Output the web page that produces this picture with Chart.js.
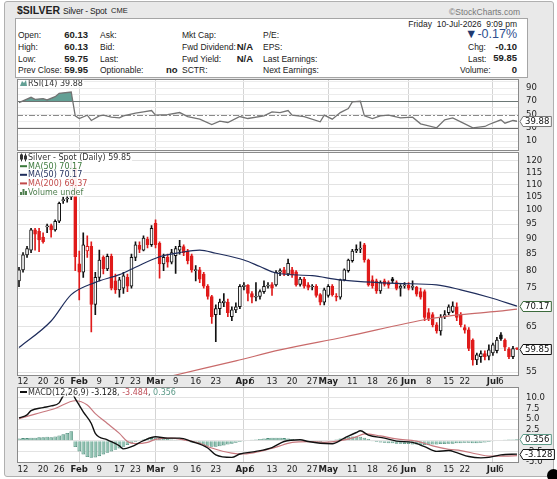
<!DOCTYPE html>
<html>
<head>
<meta charset="utf-8">
<script src="https://cdn.jsdelivr.net/npm/chart.js@4.4.1/dist/chart.umd.min.js"></script>
<style>
  body { margin: 0; width: 557px; height: 479px; overflow: hidden; background: #fff; font-family: "Liberation Sans", Arial, sans-serif; color: #222; }
  #frame { position: absolute; left: 4px; top: 1px; width: 548px; height: 474px; background: #e9e9e9; border: 1px solid #b0b0b0; border-radius: 3px; }
  #info { position: absolute; left: 15px; top: 18px; width: 511px; height: 58px; background: #fff; border: 1px solid #a5a5a5; }
  .t { position: absolute; white-space: nowrap; font-size: 8.5px; line-height: 12px; }
  .b { font-weight: bold; font-size: 9.5px; }
  canvas { position: absolute; left: 0; }
  #dot { position: absolute; left: 547px; top: 469px; width: 13px; height: 13px; border-radius: 50%; background: #000; }
</style>
</head>
<body>
<div id="frame"></div>
<span class="t" style="left:17px;top:4px;font-size:10.5px;font-weight:bold">$SILVER</span>
<span class="t" style="left:63px;top:4.5px;font-size:8.5px;letter-spacing:-0.2px">Silver - Spot</span>
<span class="t" style="left:111px;top:5px;font-size:7.5px">CME</span>
<span class="t" style="right:37px;top:6px;font-size:8.5px;color:#777">©StockCharts.com</span>
<div id="info"></div>

<span class="t" style="left:18px;top:29px">Open:</span>
<span class="t" style="left:18px;top:41px">High:</span>
<span class="t" style="left:18px;top:53px">Low:</span>
<span class="t" style="left:18px;top:64px">Prev Close:</span>
<span class="t b" style="right:469px;top:29px">60.13</span>
<span class="t b" style="right:469px;top:41px">60.13</span>
<span class="t b" style="right:469px;top:53px">59.75</span>
<span class="t b" style="right:469px;top:64px">59.95</span>

<span class="t" style="left:100px;top:29px">Ask:</span>
<span class="t" style="left:100px;top:41px">Bid:</span>
<span class="t" style="left:100px;top:53px">Last:</span>
<span class="t" style="left:100px;top:64px">Optionable:</span>
<span class="t b" style="left:166px;top:64px">no</span>

<span class="t" style="left:182px;top:29px">Mkt Cap:</span>
<span class="t" style="left:182px;top:41px">Fwd Dividend:</span>
<span class="t" style="left:182px;top:53px">Fwd Yield:</span>
<span class="t" style="left:182px;top:64px">SCTR:</span>
<span class="t b" style="right:304px;top:41px">N/A</span>
<span class="t b" style="right:304px;top:53px">N/A</span>

<span class="t" style="left:263px;top:29px">P/E:</span>
<span class="t" style="left:263px;top:41px">EPS:</span>
<span class="t" style="left:263px;top:53px">Last Earnings:</span>
<span class="t" style="left:263px;top:64px">Next Earnings:</span>

<span class="t" style="right:40px;top:18px">Friday&nbsp; 10-Jul-2026&nbsp; 9:09 pm</span>
<span class="t" style="right:40px;top:28px;font-size:12.5px;color:#2f4f8f"><span style="color:#1f3a70">▼</span>-0.17%</span>
<span class="t" style="left:468px;top:41px">Chg:</span>
<span class="t b" style="right:40px;top:41px">-0.10</span>
<span class="t" style="left:468px;top:53px">Last:</span>
<span class="t b" style="right:40px;top:52px">59.85</span>
<span class="t" style="left:460px;top:64px">Volume:</span>
<span class="t b" style="right:40px;top:64px">0</span>

<canvas id="rsiChart" width="557" height="73" style="top:78px"></canvas>
<canvas id="priceChart" width="557" height="237" style="top:150px"></canvas>
<canvas id="macdChart" width="557" height="90" style="top:386px"></canvas>
<div id="dot"></div>

<script>
// trading days shown on the chart
const DATES = [
  'Jan 9','Jan 12','Jan 13','Jan 14','Jan 15','Jan 16','Jan 20','Jan 21','Jan 22','Jan 23',
  'Jan 26','Jan 27','Jan 28','Jan 29','Jan 30','Feb 2','Feb 3','Feb 4','Feb 5','Feb 6',
  'Feb 9','Feb 10','Feb 11','Feb 12','Feb 13','Feb 17','Feb 18','Feb 19','Feb 20','Feb 23',
  'Feb 24','Feb 25','Feb 26','Feb 27','Mar 2','Mar 3','Mar 4','Mar 5','Mar 6','Mar 9',
  'Mar 10','Mar 11','Mar 12','Mar 13','Mar 16','Mar 17','Mar 18','Mar 19','Mar 20','Mar 23',
  'Mar 24','Mar 25','Mar 26','Mar 27','Mar 30','Mar 31','Apr 1','Apr 2','Apr 6','Apr 7',
  'Apr 8','Apr 9','Apr 10','Apr 13','Apr 14','Apr 15','Apr 16','Apr 17','Apr 20','Apr 21',
  'Apr 22','Apr 23','Apr 24','Apr 27','Apr 28','Apr 29','Apr 30','May 1','May 4','May 5',
  'May 6','May 7','May 8','May 11','May 12','May 13','May 14','May 15','May 18','May 19',
  'May 20','May 21','May 22','May 26','May 27','May 28','May 29','Jun 1','Jun 2','Jun 3',
  'Jun 4','Jun 5','Jun 8','Jun 9','Jun 10','Jun 11','Jun 12','Jun 15','Jun 16','Jun 17',
  'Jun 18','Jun 22','Jun 23','Jun 24','Jun 25','Jun 26','Jun 29','Jun 30','Jul 1','Jul 2',
  'Jul 6','Jul 7','Jul 8','Jul 9','Jul 10'
];

const OPEN = [
  77.0,80.2,84.8,86.3,93.0,92.5,90.5,94.0,94.5,93.0, 96.0,103.6,104.2,105.0,117.0,82.0,79.5,86.0,87.5,70.6,
  78.0,84.0,80.5,84.3,77.0,74.5,75.0,78.0,75.5,84.0, 87.8,86.3,89.8,88.0,95.3,88.5,82.0,84.0,82.5,84.5,
  86.3,87.4,86.0,84.5,80.0,80.2,79.0,75.5,72.7,68.0, 69.5,71.0,71.2,67.5,69.2,70.0,75.4,75.8,73.5,72.5,
  72.7,74.0,75.5,76.0,75.9,79.5,80.2,79.0,80.2,79.6, 76.0,77.5,75.9,75.3,75.5,73.2,71.2,73.0,75.5,72.8,
  72.5,77.3,80.0,83.0,86.0,86.6,88.0,83.2,77.3,77.0, 74.2,77.0,76.5,77.6,76.5,75.0,75.6,75.8,75.2,75.2,
  74.0,74.0,68.5,68.0,65.5,64.0,67.5,68.5,68.8,70.0, 68.0,64.8,64.3,61.9,57.5,58.2,58.9,58.3,59.0,59.5,
  63.1,61.9,59.8,58.2,60.13
];
const HIGH = [
  81.0,85.5,87.5,93.5,93.5,93.5,92.0,95.0,95.0,96.5, 103.0,105.0,106.0,121.0,118.5,86.0,92.0,91.0,89.0,79.5,
  86.3,84.5,85.0,85.0,79.0,78.0,79.5,79.0,85.0,89.0, 89.0,91.0,90.5,94.5,96.5,89.0,85.0,85.0,86.5,87.5,
  89.5,88.0,86.5,85.0,81.5,81.0,79.5,76.0,73.0,70.5, 72.0,73.5,72.0,70.0,71.0,76.0,76.5,76.0,74.0,76.5,
  74.5,77.0,76.5,76.5,80.0,80.5,81.0,83.5,81.0,80.0, 78.0,78.0,76.5,76.0,76.0,73.5,75.0,76.0,76.0,73.5,
  77.5,80.5,83.5,86.5,88.0,89.0,88.5,83.5,78.5,77.5, 77.0,77.5,77.0,78.0,77.0,76.0,76.5,76.5,77.0,75.5,
  75.0,74.5,69.5,68.5,66.0,68.0,69.0,70.5,71.3,71.0, 68.5,65.5,64.8,62.2,59.0,59.5,59.5,60.8,61.2,62.5,
  63.6,62.2,60.2,60.5,60.13
];
const LOW = [
  75.4,79.5,84.0,85.5,86.3,85.8,88.5,92.0,90.5,92.5, 95.5,102.5,103.0,104.0,80.0,71.8,78.0,84.0,63.8,68.0,
  77.0,79.0,80.0,74.5,73.5,72.5,73.5,74.0,75.0,83.0, 85.5,86.0,87.0,87.5,87.0,77.8,80.0,81.0,82.0,79.2,
  85.0,84.5,82.0,79.5,77.0,76.5,75.0,72.0,65.8,61.5, 68.0,70.0,67.5,66.5,68.5,69.5,74.5,71.5,71.0,71.5,
  72.0,73.5,75.0,73.0,75.5,78.5,78.5,78.5,78.0,75.5, 75.5,75.0,74.5,74.5,72.5,70.5,70.5,72.5,72.8,71.5,
  72.0,77.0,79.5,82.5,85.5,85.5,82.5,75.5,75.0,73.5, 73.5,75.5,75.0,76.5,74.5,72.8,75.0,74.5,74.5,72.8,
  72.0,66.5,66.5,65.0,63.5,63.0,67.0,68.0,68.5,66.5, 65.0,63.5,59.5,56.4,56.5,57.0,57.5,57.5,58.5,59.0,
  61.8,59.5,57.8,57.8,59.75
];
const CLOSE = [
  80.2,84.8,86.8,93.0,91.5,89.6,89.0,94.2,93.0,96.0, 102.6,103.9,104.6,117.0,84.2,79.5,88.0,87.5,70.6,78.0,
  83.2,80.5,84.3,75.0,74.5,77.3,78.5,75.5,84.0,88.0, 86.5,90.2,88.0,93.5,88.0,82.0,84.0,82.5,85.5,86.8,
  87.5,85.5,83.0,80.2,80.3,77.5,75.5,72.7,67.5,69.5, 71.2,71.5,68.5,69.2,70.0,75.5,75.8,73.5,72.5,72.7,
  74.0,75.5,75.8,75.0,79.5,80.0,79.0,82.2,78.8,75.9, 77.5,75.5,75.2,75.5,73.0,71.2,74.5,75.5,73.2,72.5,
  77.3,80.2,83.2,86.0,86.5,86.9,83.2,75.9,75.6,74.2, 76.5,76.0,75.8,77.0,74.9,75.5,75.9,75.0,75.3,73.3,
  72.5,67.3,67.0,65.5,64.0,67.3,68.0,70.0,70.2,67.3, 65.5,64.2,60.0,57.5,58.6,58.9,58.2,59.7,60.8,61.9,
  62.2,60.3,58.2,59.95,59.85
];

// moving averages, read at points along the curves
const MA50 = [
  ['Jan 9',60.2],['Jan 22',66.4],['Jan 29',73.2],['Feb 6',76.6],['Feb 17',78.8],['Feb 23',81.0],
  ['Mar 3',84.2],['Mar 10',85.5],['Mar 17',86.3],['Mar 23',85.3],['Apr 1',83.2],['Apr 8',81.2],
  ['Apr 14',79.3],['Apr 27',78.5],['May 6',77.3],['May 27',76.3],['Jun 10',75.9],['Jun 18',74.5],
  ['Jun 30',72.5],['Jul 10',70.17]
];
const MA200 = [
  ['Mar 6',54.2],['Mar 9',54.4],['Mar 30',57.3],['Apr 15',59.7],['May 7',62.6],['Jun 8',66.9],
  ['Jun 18',68.0],['Jul 2',68.8],['Jul 10',69.37]
];

const RSI = [
  ['Jan 9',68],['Jan 14',76],['Jan 15',73],['Jan 20',74],['Jan 21',72],['Jan 23',77],['Jan 26',82],
  ['Jan 29',84],['Jan 30',48],['Feb 2',44],['Feb 4',49],['Feb 5',41],['Feb 9',48],['Feb 10',49],
  ['Feb 12',46],['Feb 17',45],['Feb 18',48],['Feb 23',52],['Feb 25',54],['Feb 27',56],['Mar 2',49],
  ['Mar 5',50],['Mar 10',53],['Mar 12',47],['Mar 17',43],['Mar 20',35],['Mar 24',40],['Mar 26',38],
  ['Mar 31',47],['Apr 2',44],['Apr 9',48],['Apr 13',54],['Apr 15',53],['Apr 17',56],['Apr 20',49],
  ['Apr 23',47],['Apr 29',39],['Apr 30',49],['May 4',43],['May 6',53],['May 8',59],['May 11',69],
  ['May 13',70],['May 14',48],['May 18',44],['May 20',48],['May 22',49],['May 28',45],['Jun 2',46],
  ['Jun 4',36],['Jun 10',30],['Jun 12',42],['Jun 16',45],['Jun 18',39],['Jun 24',30],['Jun 29',32],
  ['Jun 30',35],['Jul 6',42],['Jul 7',37],['Jul 9',41],['Jul 10',39.88]
];

const MACD = [
  ['Jan 9',5.3],['Jan 13',6.0],['Jan 14',7.0],['Jan 20',7.7],['Jan 22',8.1],['Jan 26',8.8],['Jan 27',10.4],
  ['Jan 29',11.3],['Jan 30',9.8],['Feb 3',6.7],['Feb 5',4.0],['Feb 6',1.7],['Feb 11',0.2],['Feb 17',-1.2],
  ['Feb 18',-1.9],['Feb 20',-1.4],['Feb 25',0],['Mar 2',0.9],['Mar 5',0.6],['Mar 10',0.6],['Mar 13',-0.2],
  ['Mar 19',-1.7],['Mar 23',-3.3],['Mar 27',-3.9],['Mar 31',-3.1],['Apr 7',-2.5],['Apr 13',-1.6],
  ['Apr 16',-0.2],['Apr 22',0.2],['Apr 24',-0.2],['Apr 29',-0.6],['May 4',-0.7],['May 7',0.6],
  ['May 12',1.9],['May 13',2.3],['May 15',1.3],['May 21',0.6],['May 27',-0.1],['Jun 2',-0.4],
  ['Jun 5',-1.4],['Jun 10',-2.5],['Jun 15',-2.3],['Jun 17',-2.8],['Jun 23',-3.7],['Jun 26',-4.0],
  ['Jun 30',-3.9],['Jul 6',-3.3],['Jul 10',-3.128]
];
const SIGNAL = [
  ['Jan 9',5.1],['Jan 15',6.2],['Jan 23',7.5],['Jan 30',9.3],['Feb 4',8.3],['Feb 6',6.3],['Feb 11',4.0],
  ['Feb 17',1.7],['Feb 19',-0.2],['Feb 23',-0.7],['Feb 26',-0.4],['Mar 2',0.3],['Mar 6',0.6],
  ['Mar 11',0.2],['Mar 17',-0.6],['Mar 20',-1.7],['Mar 27',-2.9],['Apr 1',-3.1],['Apr 8',-2.5],
  ['Apr 14',-1.5],['Apr 20',-0.4],['Apr 24',-0.2],['Apr 30',-0.4],['May 6',0],['May 12',0.9],
  ['May 14',1.6],['May 20',1.1],['May 27',0.4],['Jun 3',-0.1],['Jun 9',-1.2],['Jun 15',-2.0],
  ['Jun 18',-2.3],['Jun 25',-3.1],['Jun 30',-3.6],['Jul 7',-3.6],['Jul 10',-3.484]
];
const HIST = [
  0.5,0.6,0.6,0.7,0.7,0.8,0.8,0.9,0.8,1.0, 1.2,1.5,1.8,2.2,-1.5,-2.5,-3.2,-3.8,-4.0,-3.9,
  -3.6,-3.2,-2.8,-2.5,-2.1,-1.8,-1.4,-1.0,-0.6,-0.3, 0.1,0.3,0.5,0.6,0.7,0.6,0.5,0.4,0.3,0.2,
  0.1,0.0,-0.2,-0.4,-0.6,-0.8,-1.0,-1.2,-1.4,-1.4, -1.3,-1.1,-0.9,-0.7,-0.5,-0.3,-0.1,0.1,0.2,0.3,
  0.4,0.5,0.6,0.7,0.7,0.7,0.6,0.5,0.4,0.3, 0.2,0.0,-0.2,-0.3,-0.3,-0.3,-0.2,-0.1,0.1,0.3,
  0.5,0.7,0.9,1.0,1.0,0.9,0.7,0.4,-0.1,-0.3, -0.4,-0.5,-0.6,-0.6,-0.7,-0.7,-0.8,-0.8,-0.9,-0.9,
  -1.0,-1.0,-1.0,-0.9,-0.9,-0.8,-0.8,-0.7,-0.7,-0.6, -0.6,-0.5,-0.5,-0.6,-0.6,-0.5,-0.4,-0.3,-0.1,0.0,
  0.1,0.2,0.3,0.3,0.356
];

const X_TICK_DATES = ['Jan 12','Jan 20','Jan 26','Feb 2','Feb 9','Feb 17','Feb 23','Mar 2','Mar 9','Mar 16','Mar 23',
  'Apr 1','Apr 6','Apr 13','Apr 20','Apr 27','May 1','May 11','May 18','May 26','Jun 1','Jun 8','Jun 15','Jun 22','Jul 1','Jul 6'];
const X_TICK_TEXT = ['12','20','26','Feb','9','17','23','Mar','9','16','23',
  'Apr','6','13','20','27','May','11','18','26','Jun','8','15','22','Jul','6'];
const MONTHS = ['Feb','Mar','Apr','May','Jun','Jul'];
const PRICE_TICKS = [55,60,65,70,75,80,85,90,95,100,105,110,115,120];
const RSI_TICKS = [0,10,20,30,40,50,60,70,80,90,100];
const RSI_LABELS = [10,30,50,70,90];
const MACD_TICKS = [-5,-2.5,0,2.5,5,7.5,10];

const FONT = 'DejaVu Sans';
const RED = '#e01b1b';
const last = a => a[a.length - 1];
const pts = list => list.map(p => ({ x: p[0], y: p[1] }));

const tickMap = {};
X_TICK_DATES.forEach((d, k) => { tickMap[d] = X_TICK_TEXT[k]; });
const tickText = i => tickMap[DATES[i]] || '';
const isMonth = i => MONTHS.includes(tickText(i));

// StockCharts colouring: red when close < previous close, hollow when close >= open
const candleLine = CLOSE.map((c, i) => c < (i ? CLOSE[i - 1] : OPEN[i]) ? RED : '#111');
const candleFill = CLOSE.map((c, i) => c >= OPEN[i] ? '#ffffff' : candleLine[i]);

function xAxis(labelHeight) {
  return {
    type: 'category', offset: true,
    border: { display: false },
    grid: { offset: false, drawTicks: false, color: ctx => isMonth(ctx.index) ? '#d4d4d4' : 'rgba(0,0,0,0)' },
    ticks: {
      display: labelHeight > 0, autoSkip: false, maxRotation: 0, padding: 2, color: '#222',
      font: ctx => ({ family: FONT, size: 8.5, weight: isMonth(ctx.index) ? 'bold' : 'normal' }),
      callback: (v, i) => tickText(i)
    },
    afterFit: s => { s.height = labelHeight; s.paddingLeft = 0; s.paddingRight = 0; }
  };
}
function yAxis(extra) {
  return Object.assign({
    position: 'right',
    border: { display: false },
    grid: { color: '#e3e3e3', drawTicks: false },
    afterFit: s => { s.width = 38; s.paddingTop = 0; s.paddingBottom = 0; }
  }, extra);
}
const yTicks = cb => ({ autoSkip: false, padding: 7, color: '#222', font: { family: FONT, size: 8.5 }, callback: cb });

function drawIcon(c, kind, x, y, color) {
  c.save();
  c.fillStyle = color; c.strokeStyle = color; c.lineWidth = 1;
  if (kind === 'line') c.fillRect(x, y - 1, 7, 2);
  if (kind === 'candle') { c.fillRect(x + 1, y - 4, 1, 8); c.strokeRect(x + 0.5, y - 2.5, 2, 4); c.fillRect(x + 5, y - 4, 1, 8); c.fillRect(x + 4, y - 2, 3, 4); }
  if (kind === 'bars') { c.fillRect(x, y, 2, 3); c.fillRect(x + 2.5, y - 3, 2, 6); c.fillRect(x + 5, y - 1, 2, 4); }
  if (kind === 'area') { c.beginPath(); c.moveTo(x, y + 3); c.lineTo(x + 2, y - 2); c.lineTo(x + 4, y); c.lineTo(x + 6, y - 3); c.lineTo(x + 7, y + 3); c.closePath(); c.fill(); }
  c.restore();
}

const panel = {
  id: 'panel',
  beforeDraw(chart) {
    const a = chart.chartArea, c = chart.ctx;
    c.save(); c.fillStyle = '#fff'; c.fillRect(a.left, a.top, a.width, a.height); c.restore();
  },
  beforeDatasetsDraw(chart, args, opts) {
    const a = chart.chartArea, c = chart.ctx, y = chart.scales.y;
    c.save();
    (opts.refLines || []).forEach(r => {
      const py = Math.round(y.getPixelForValue(r.value)) + 0.5;
      c.strokeStyle = r.color; c.lineWidth = 1; c.setLineDash(r.dash || []);
      c.beginPath(); c.moveTo(a.left, py); c.lineTo(a.right, py); c.stroke();
    });
    c.restore();
  },
  afterDatasetsDraw(chart, args, opts) {
    const c = chart.ctx;
    c.save();
    c.font = '8px "' + FONT + '"'; c.textBaseline = 'middle';
    (opts.legend || []).forEach(l => {
      const w = l.parts.reduce((s, p) => s + c.measureText(p.text).width, 0);
      c.fillStyle = 'rgba(255,255,255,0.92)';
      c.fillRect(19, l.y - 4.5, w + 10, 9);
      drawIcon(c, l.icon, 20, l.y, l.iconColor);
      let x = 28;
      l.parts.forEach(p => { c.fillStyle = p.color; c.fillText(p.text, x, l.y + 0.5); x += c.measureText(p.text).width; });
    });
    c.restore();
  },
  afterDraw(chart, args, opts) {
    const a = chart.chartArea, c = chart.ctx, y = chart.scales.y;
    c.save();
    c.strokeStyle = '#8a8a8a'; c.lineWidth = 1;
    c.strokeRect(Math.round(a.left) + 0.5, Math.round(a.top) + 0.5, Math.round(a.width) - 1, Math.round(a.height) - 1);
    c.font = '8.5px "' + FONT + '"'; c.textBaseline = 'middle';
    const x0 = a.right + 4;
    (opts.boxes || []).forEach(b => {
      const py = Math.round(y.getPixelForValue(b.value)) + 0.5;
      const w = c.measureText(b.text).width + 4, h = 10;
      c.beginPath();
      c.moveTo(x0 - 3, py); c.lineTo(x0, py - h / 2); c.lineTo(x0 + w, py - h / 2);
      c.lineTo(x0 + w, py + h / 2); c.lineTo(x0, py + h / 2); c.closePath();
      c.fillStyle = '#fff'; c.fill();
      c.strokeStyle = b.color; c.stroke();
      c.fillStyle = '#111'; c.fillText(b.text, x0 + 2, py + 0.5);
    });
    c.restore();
  }
};

Chart.defaults.font.family = FONT;
const base = { responsive: false, animation: false, events: [] };

// RSI panel
new Chart(document.getElementById('rsiChart'), {
  type: 'line',
  data: {
    labels: DATES,
    datasets: [{
      data: pts(RSI), borderColor: '#737373', borderWidth: 1.3, pointRadius: 0, tension: 0,
      fill: { target: { value: 70 }, above: '#63a095', below: 'rgba(0,0,0,0)' }
    }]
  },
  plugins: [panel],
  options: Object.assign({}, base, {
    layout: { padding: { left: 17, top: 1, right: 0, bottom: 0 } },
    plugins: {
      legend: { display: false }, tooltip: { enabled: false },
      panel: {
        refLines: [{ value: 70, color: '#6f6f6f' }, { value: 30, color: '#6f6f6f' }, { value: 50, color: '#8a8a8a', dash: [6, 2, 2, 2] }],
        legend: [{ y: 5, icon: 'area', iconColor: '#63a095', parts: [{ text: 'RSI(14) ' + last(RSI)[1].toFixed(2), color: '#333' }] }],
        boxes: [{ value: last(RSI)[1], text: last(RSI)[1].toFixed(2), color: '#777' }]
      }
    },
    scales: {
      x: xAxis(0),
      y: yAxis({
        min: -5, max: 103.6,
        afterBuildTicks: s => { s.ticks = RSI_TICKS.map(v => ({ value: v })); },
        ticks: yTicks(v => RSI_LABELS.includes(v) ? String(v) : ''),
        grid: { color: '#ececec', drawTicks: false }
      })
    }
  })
});

// price panel
new Chart(document.getElementById('priceChart'), {
  type: 'bar',
  data: {
    labels: DATES,
    datasets: [
      { type: 'line', data: pts(MA50), borderColor: '#1f2d5c', borderWidth: 1.2, pointRadius: 0, tension: 0.4, cubicInterpolationMode: 'monotone', order: 0 },
      { type: 'line', data: pts(MA200), borderColor: '#c96a6a', borderWidth: 1.2, pointRadius: 0, tension: 0.4, cubicInterpolationMode: 'monotone', order: 0 },
      {
        data: OPEN.map((o, i) => [Math.min(o, CLOSE[i]), Math.max(o, CLOSE[i])]),
        backgroundColor: candleFill, borderColor: candleLine, borderWidth: 1, borderSkipped: false,
        barThickness: 3, minBarLength: 1, grouped: false, order: 1
      },
      {
        data: LOW.map((l, i) => [l, HIGH[i]]),
        backgroundColor: candleLine, borderWidth: 0, barThickness: 1, grouped: false, order: 2
      }
    ]
  },
  plugins: [panel],
  options: Object.assign({}, base, {
    layout: { padding: { left: 17, top: 1.5, right: 0, bottom: 0 } },
    plugins: {
      legend: { display: false }, tooltip: { enabled: false },
      panel: {
        legend: [
          { y: 7.5, icon: 'candle', iconColor: '#333', parts: [{ text: 'Silver - Spot (Daily) ' + last(CLOSE).toFixed(2), color: '#333' }] },
          { y: 16.2, icon: 'line', iconColor: '#3c7a3c', parts: [{ text: 'MA(50) ' + last(MA50)[1].toFixed(2), color: '#3c7a3c' }] },
          { y: 24.8, icon: 'line', iconColor: '#1f2d5c', parts: [{ text: 'MA(50) ' + last(MA50)[1].toFixed(2), color: '#1f2d5c' }] },
          { y: 33.4, icon: 'line', iconColor: '#c24a4a', parts: [{ text: 'MA(200) ' + last(MA200)[1].toFixed(2), color: '#c24a4a' }] },
          { y: 42, icon: 'bars', iconColor: '#4f7f4f', parts: [{ text: 'Volume undef', color: '#4f7f4f' }] }
        ],
        boxes: [
          { value: last(MA50)[1], text: last(MA50)[1].toFixed(2), color: '#3c6a3c' },
          { value: last(CLOSE), text: last(CLOSE).toFixed(2), color: '#111' }
        ]
      }
    },
    scales: {
      x: xAxis(12),
      y: yAxis({
        type: 'logarithmic', min: 54.4, max: 124.2,
        afterBuildTicks: s => { s.ticks = PRICE_TICKS.map(v => ({ value: v })); },
        ticks: yTicks(v => String(v))
      })
    }
  })
});

// MACD panel
new Chart(document.getElementById('macdChart'), {
  type: 'bar',
  data: {
    labels: DATES,
    datasets: [
      { type: 'line', data: pts(MACD), borderColor: '#111', borderWidth: 1.4, pointRadius: 0, tension: 0.4, cubicInterpolationMode: 'monotone', order: 0 },
      { type: 'line', data: pts(SIGNAL), borderColor: '#c8787e', borderWidth: 1.2, pointRadius: 0, tension: 0.4, cubicInterpolationMode: 'monotone', order: 1 },
      { data: HIST, backgroundColor: '#8fc2b1', borderColor: '#4d8c7a', borderWidth: 0.8, barPercentage: 0.9, categoryPercentage: 1, order: 2 }
    ]
  },
  plugins: [panel],
  options: Object.assign({}, base, {
    layout: { padding: { left: 17, top: 1, right: 0, bottom: 0 } },
    plugins: {
      legend: { display: false }, tooltip: { enabled: false },
      panel: {
        legend: [{
          y: 6, icon: 'line', iconColor: '#111', parts: [
            { text: 'MACD(12,26,9) ', color: '#333' },
            { text: last(MACD)[1].toFixed(3), color: '#111' }, { text: ', ', color: '#333' },
            { text: last(SIGNAL)[1].toFixed(3), color: '#c0505a' }, { text: ', ', color: '#333' },
            { text: last(HIST).toFixed(3), color: '#5c9a88' }
          ]
        }],
        boxes: [
          { value: last(HIST), text: last(HIST).toFixed(3), color: '#5c9a88' },
          { value: last(MACD)[1], text: last(MACD)[1].toFixed(3), color: '#111' }
        ]
      }
    },
    scales: {
      x: xAxis(13),
      y: yAxis({
        min: -5.2, max: 12.5,
        afterBuildTicks: s => { s.ticks = MACD_TICKS.map(v => ({ value: v })); },
        ticks: yTicks(v => v.toFixed(1))
      })
    }
  })
});
</script>
</body>
</html>
